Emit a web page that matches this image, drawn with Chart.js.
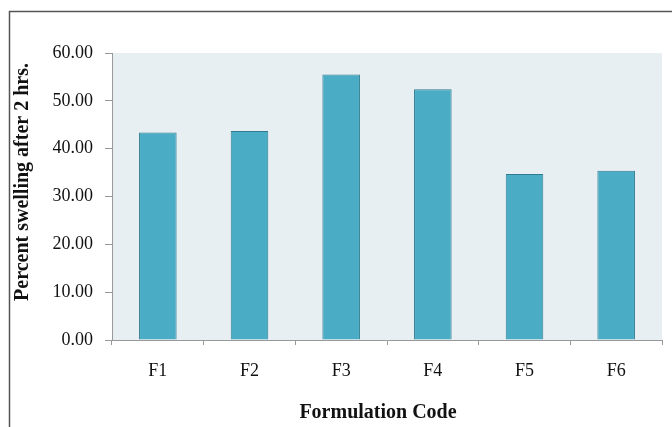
<!DOCTYPE html>
<html>
<head>
<meta charset="utf-8">
<script src="https://cdn.jsdelivr.net/npm/chart.js@4"></script>
<style>
  html, body { margin: 0; padding: 0; background: #fff; }
  #wrap { width: 672px; height: 427px; position: relative; }
</style>
</head>
<body>
<div id="wrap"><canvas id="swellChart"></canvas></div>
<script>
// percent swelling after 2 hrs per formulation
const formulations = ['F1', 'F2', 'F3', 'F4', 'F5', 'F6'];
const swelling = [43.4, 43.7, 55.5, 52.4, 34.7, 35.4];
const yTicks = [0, 10, 20, 30, 40, 50, 60];
const xTitle = 'Formulation Code';
const yTitle = 'Percent swelling after 2 hrs.';

const serif = '"Liberation Serif", "Times New Roman", serif';

// light plot background + outer frame like the original figure
const plotBg = {
    id: 'plotBg',
    beforeDraw(chart) {
        const { ctx, chartArea: a } = chart;
        ctx.save();
        ctx.fillStyle = '#e8eff3';
        ctx.fillRect(a.left, a.top, a.right - a.left, a.bottom - a.top);
        ctx.strokeStyle = '#555';
        ctx.lineWidth = 1.5;
        ctx.beginPath();
        ctx.moveTo(9.5, chart.height + 5);
        ctx.lineTo(9.5, 11.5);
        ctx.lineTo(chart.width + 5, 11.5);
        ctx.stroke();
        ctx.restore();
    }
};

// axis titles sit a bit off-centre in the original, so draw them by hand
const axisTitles = {
    id: 'axisTitles',
    afterDraw(chart) {
        const { ctx } = chart;
        ctx.save();
        ctx.fillStyle = '#111';
        ctx.textAlign = 'center';
        ctx.textBaseline = 'middle';
        ctx.font = 'bold 20px ' + serif;
        ctx.fillText(xTitle, 378, 413);
        ctx.translate(23, 182);
        ctx.rotate(-Math.PI / 2);
        ctx.font = 'bold 20px ' + serif;
        ctx.fillText(yTitle, 0, 0);
        ctx.restore();
    }
};

document.addEventListener('DOMContentLoaded', () => {
    const ctx = document.getElementById('swellChart').getContext('2d');

    new Chart(ctx, {
        type: 'bar',
        data: {
            labels: formulations,
            datasets: [{
                data: swelling,
                backgroundColor: '#4bacc6',
                borderColor: '#2f7b8f',
                borderWidth: 1,
                barPercentage: 0.41,
                categoryPercentage: 1.0
            }]
        },
        options: {
            responsive: true,
            maintainAspectRatio: false,
            animation: false,
            layout: { padding: { left: 12, top: 53, right: 10, bottom: 0 } },
            plugins: {
                legend: { display: false },
                tooltip: { enabled: false }
            },
            scales: {
                x: {
                    afterFit(scale) { scale.height = 87; },
                    grid: {
                        offset: true,
                        drawOnChartArea: false,
                        drawTicks: true,
                        tickLength: 5,
                        color: '#999'
                    },
                    border: { color: '#999' },
                    ticks: {
                        color: '#111',
                        padding: 15,
                        font: { family: serif, size: 18 }
                    }
                },
                y: {
                    min: 0,
                    max: 60,
                    afterFit(scale) { scale.width = 100; },
                    afterBuildTicks(scale) {
                        scale.ticks = yTicks.map(v => ({ value: v }));
                    },
                    grid: {
                        drawOnChartArea: false,
                        drawTicks: true,
                        tickLength: 7,
                        color: '#999'
                    },
                    border: { color: '#999' },
                    ticks: {
                        color: '#111',
                        padding: 12,
                        font: { family: serif, size: 18 },
                        callback: v => v.toFixed(2)
                    }
                }
            }
        },
        plugins: [plotBg, axisTitles]
    });
});
</script>
</body>
</html>
